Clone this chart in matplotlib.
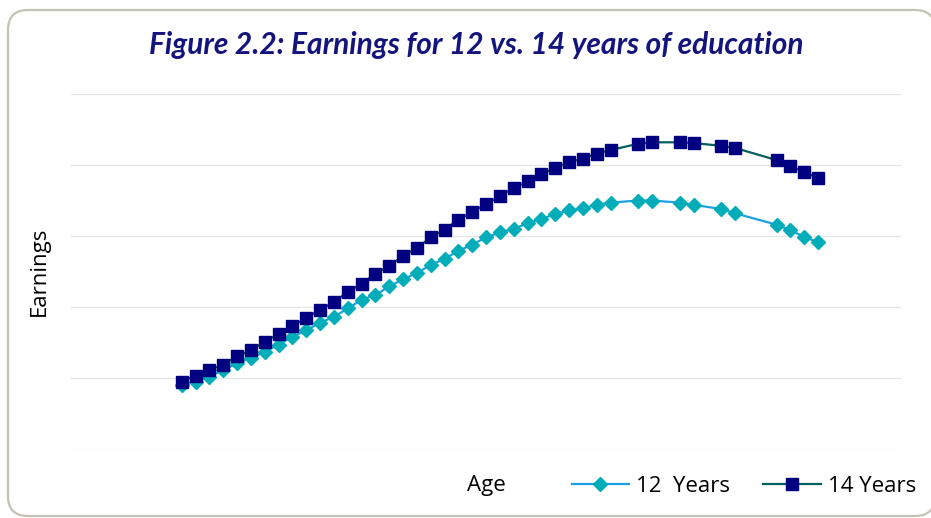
import matplotlib
matplotlib.use('Agg')
import matplotlib.pyplot as plt
from matplotlib.patches import FancyBboxPatch

# ages shown in the chart (a few ages are missing in the source data)
ages = list(range(18, 50)) + [51, 52, 54, 55, 57, 58, 61, 62, 63, 64]

earn_12 = [9.0, 9.5, 10.2, 11.1, 12.1, 12.8, 13.7, 14.7, 15.8, 16.7, 17.8, 18.6,
           19.8, 21.0, 21.7, 22.9, 23.9, 24.8, 25.9, 26.8, 27.9, 28.8, 29.8, 30.5,
           31.0, 31.8, 32.4, 33.1, 33.6, 33.9, 34.4, 34.7, 35.0, 35.0, 34.7, 34.4,
           33.8, 33.2, 31.6, 30.8, 29.9, 29.1]
earn_14 = [9.5, 10.3, 11.1, 11.9, 13.1, 13.9, 15.1, 16.2, 17.3, 18.5, 19.6, 20.7,
           22.1, 23.3, 24.7, 25.8, 27.2, 28.3, 29.8, 30.9, 32.3, 33.4, 34.5, 35.6,
           36.8, 37.7, 38.7, 39.6, 40.4, 40.9, 41.6, 42.1, 43.0, 43.2, 43.2, 43.1,
           42.7, 42.4, 40.7, 39.9, 39.0, 38.2]

label_font = 'Open Sans'

fig = plt.figure(figsize=(9.31, 5.18), dpi=100)

# rounded frame around the figure
frame = FancyBboxPatch((0.08, 0.02), 9.27, 5.06,
                       boxstyle='round,pad=0,rounding_size=0.2',
                       transform=fig.dpi_scale_trans, facecolor='white',
                       edgecolor='#c4c2b4', linewidth=1.6, zorder=-5)
fig.patches.append(frame)

ax = fig.add_axes([0.0763, 0.1332, 0.8915, 0.6853])
ax.set_facecolor('none')

ax.plot(ages, earn_12, color='#1ba1e2', linewidth=1.6, marker='D',
        markersize=7.4, markerfacecolor='#00adb9', markeredgecolor='#00adb9',
        label='12  Years', zorder=3)
ax.plot(ages, earn_14, color='#00605e', linewidth=1.6, marker='s',
        markersize=9.2, markerfacecolor='#000080', markeredgecolor='#000080',
        label='14 Years', zorder=4)

ax.set_xlim(10, 70)
ax.set_ylim(0, 50)
ax.set_yticks(range(0, 51, 10))
ax.grid(axis='y', color='#e6e6e6', linewidth=0.9)
ax.set_axisbelow(True)
ax.tick_params(left=False, bottom=False, labelleft=False, labelbottom=False)
for s in ax.spines.values():
    s.set_visible(False)

ax.set_xlabel('Age', fontsize=16, family=label_font, labelpad=19)
ax.set_ylabel('Earnings', fontsize=16, family=label_font, labelpad=15)

fig.text(476 / 931, 1 - 45 / 518, 'Figure 2.2: Earnings for 12 vs. 14 years of education',
         ha='center', va='center', fontsize=21.5, family='Lato',
         fontweight='bold', fontstyle='italic', color='#14147f')

fig.legend(loc='center right', bbox_to_anchor=(916 / 931, 1 - 486 / 518),
           ncol=2, frameon=False, prop={'family': label_font, 'size': 16},
           handlelength=2.6, handletextpad=0.3, columnspacing=1.5,
           borderaxespad=0, borderpad=0)

fig.savefig('out.png', dpi=100)
